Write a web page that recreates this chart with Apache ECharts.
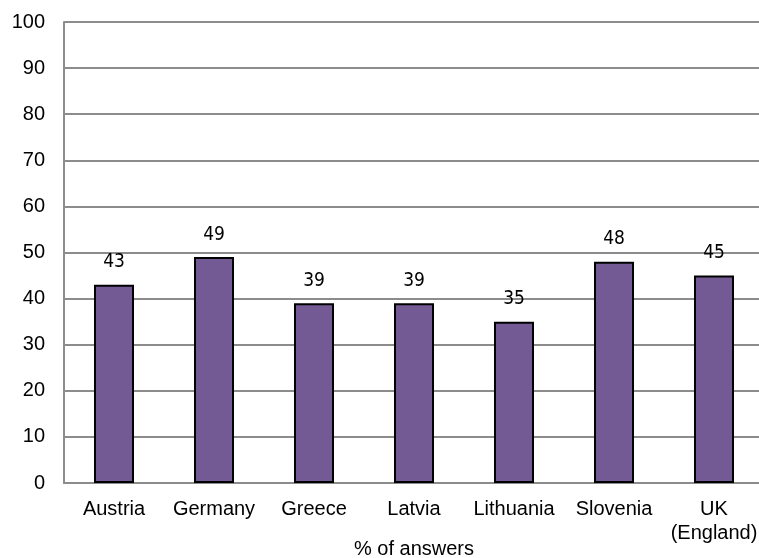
<!DOCTYPE html>
<html>
<head>
<meta charset="utf-8">
<script src="https://cdn.jsdelivr.net/npm/echarts@6/dist/echarts.min.js"></script>
<style>
  html, body { margin: 0; padding: 0; background: #fff; }
  #chart { width: 759px; height: 558px; }
</style>
</head>
<body>
<div id="chart"></div>
<script>
// Countries shown along the x axis
const countries = ['Austria', 'Germany', 'Greece', 'Latvia', 'Lithuania', 'Slovenia', 'UK\n(England)'];
// Share of answers per country (%)
const shares = [43, 49, 39, 39, 35, 48, 45];
// Value axis range
const yMin = 0, yMax = 100, yStep = 10;

const chart = echarts.init(document.getElementById('chart'));
chart.setOption({
  animation: false,
  grid: { left: 64, right: -5, top: 22, bottom: 75, containLabel: false, outerBoundsMode: 'none' },
  xAxis: {
    type: 'category',
    data: countries,
    name: '% of answers',
    nameLocation: 'middle',
    nameGap: 56,
    nameMoveOverlap: false,
    nameTextStyle: { fontFamily: 'Liberation Sans', fontSize: 20, color: '#000' },
    axisLine: { lineStyle: { color: '#8c8c8c', width: 2 } },
    axisTick: { show: false },
    axisLabel: { fontFamily: 'Liberation Sans', fontSize: 20, color: '#000', margin: 14, lineHeight: 24, interval: 0 }
  },
  yAxis: {
    type: 'value',
    min: yMin, max: yMax, interval: yStep,
    axisLine: { show: true, lineStyle: { color: '#8c8c8c', width: 2 } },
    axisTick: { show: false },
    splitLine: { lineStyle: { color: '#8c8c8c', width: 2 } },
    axisLabel: { fontFamily: 'Liberation Sans', fontSize: 20, color: '#000', margin: 19 }
  },
  series: [{
    type: 'bar',
    data: shares,
    barWidth: 40,
    itemStyle: { color: '#735a94', borderColor: '#000', borderWidth: 2 },
    label: {
      show: true,
      position: 'top',
      distance: 13,
      fontFamily: 'Liberation Sans Narrow, DejaVu Sans Condensed, sans-serif',
      fontSize: 19,
      color: '#000'
    }
  }]
});
</script>
</body>
</html>
